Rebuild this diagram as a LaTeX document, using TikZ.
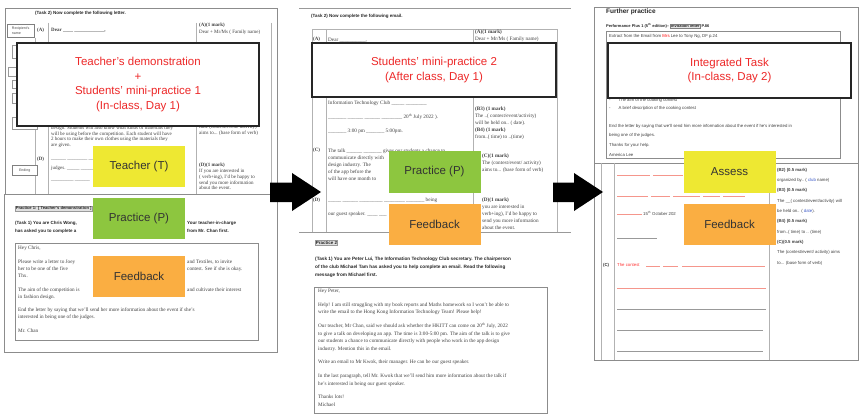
\documentclass[tikz,border=0pt]{standalone}
\usepackage{fontspec}
\setmainfont{Liberation Serif}
\setsansfont{Liberation Sans}
\usetikzlibrary{positioning}

\definecolor{tagyellow}{RGB}{238,232,50}
\definecolor{taggreen}{RGB}{141,198,63}
\definecolor{tagorange}{RGB}{250,174,66}
\definecolor{stagered}{RGB}{237,40,40}
\definecolor{blankred}{RGB}{245,150,140}
\definecolor{linkblue}{RGB}{60,90,200}

\begin{document}
\begin{tikzpicture}
[
    x=1pt, y=-1pt,
    page/.style={draw=black!45, line width=0.7pt, fill=white},
    sheet/.style={draw=black!40, line width=0.6pt},
    rule/.style={draw=black!30, line width=0.8pt},
    stage/.style={draw=black!85, line width=1.6pt, fill=white, text=stagered, align=center,
        inner sep=0pt, font=\sffamily\fontsize{11.5}{14.5}\selectfont},
    tag/.style={minimum width=92pt, minimum height=41pt, inner sep=0pt, text=black!80,
        font=\sffamily\fontsize{11.5}{14}\selectfont},
    doc/.style={anchor=north west, inner sep=0pt, align=left, text=black!75,
        font=\fontsize{5}{6}\selectfont},
    docsans/.style={doc, font=\sffamily\fontsize{4.3}{9.6}\selectfont},
    dochead/.style={doc, text=black!85, font=\sffamily\bfseries\fontsize{4.5}{7.7}\selectfont},
    labelbox/.style={draw=black!50, fill=white, inner sep=1pt, align=left, anchor=north west,
        minimum width=27pt, minimum height=13pt, text=black!70, font=\sffamily\fontsize{3.6}{4.2}\selectfont},
    blank/.style={draw=blankred, line width=0.6pt},
]
\useasboundingbox (0,0) rectangle (861,414);

% left: the letter (Task 2) and Practice 1
\draw[page] (5,8) rectangle (277,194);
\node[dochead] (taskTwoL) at (35,11) {(Task 2) Now complete the following letter.};
\draw[rule] (35,38) -- (35,194) (48,23) -- (48,194) (196,23) -- (196,194) (271,23) -- (271,194);
\node[labelbox] (recipL) at (7,24) {Recipient's\\name};
\draw[sheet, fill=white] (12,45) rectangle (34,58) (8,67) rectangle (30,76) (12,80) rectangle (34,88)
    (12,93) rectangle (34,103) (12,117) rectangle (37,129);
\node[labelbox, minimum width=25pt, minimum height=10pt] (endingL) at (12,165) {Ending};
\node[doc] (aL) at (37,28) {\textbf{(A)}};
\node[doc] (dearL) at (51,28.5) {\textbf{Dear \_\_\_\_ \_\_\_\_\_\_\_\_\_\_\_\_,}};
\node[doc, font=\fontsize{5}{7}\selectfont] (markAL) at (199,22.5) {\textbf{(A)(1 mark)}\\Dear + Mr/Ms ( Family name)};
\node[doc, font=\fontsize{5}{5.8}\selectfont] (bodyCL) at (51,125.5) {design. Students will also know what kinds of materials they\\will be using before the competition. Each student will have\\2 hours to make their own clothes using the materials they\\are given.};
\node[doc] (markCL) at (199,124.5) {time (contest/event/ activity)\\aims to... (base form of verb)};
\node[doc] (dL) at (37,157) {\textbf{(D)}};
\node[doc, font=\fontsize{5}{10.5}\selectfont] (bodyDL) at (51,159) {\_\_\_\_\_\_ \_\_\_\_\_\_\_\_ \_\_\_\_\\judges. \_\_\_\_\_ \_\_\_\_\_\\\_\_\_\_\_\_\_\_\_ \_\_\_\_\_\_};
\node[doc, font=\fontsize{5}{5.8}\selectfont] (markDL) at (199,163) {\textbf{(D)(1 mark)}\\If you are interested in\\( verb+ing), I'd be happy to\\send you more information\\about the event.};

\draw[page] (4,194) rectangle (277,352);
\node[dochead, font=\sffamily\bfseries\fontsize{4.1}{7.7}\selectfont, fill=black!12, draw=black!40, inner sep=0.6pt] (pracOneL) at (15,206) {Practice 1: [ Teacher's demonstration ]};
\node[dochead] (taskOneL) at (15,221) {(Task 1) You are Chris Wong,\\has asked you to complete a};
\node[dochead] (taskOneRL) at (187,221) {Your teacher-in-charge\\from Mr. Chan first.};
\draw[sheet, draw=black!45, line width=0.9pt] (15,243) rectangle (258,340);
\node[doc, font=\fontsize{5.2}{7.3}\selectfont] (msgL) at (18,246) {Hey Chris,\\[6pt]Please write a letter to Joey\\her to be one of the five\\Thx.\\[6pt]The aim of the competition is\\in fashion design.\\[6pt]End the letter by saying that we'll send her more information about the event if she's\\interested in being one of the judges.\\[6pt]Mr. Chan};
\node[doc, font=\fontsize{5.2}{7.3}\selectfont] (msgRL) at (187,246) {\phantom{Hey Chris,}\\[6pt]and Textiles, to invite\\contest. See if she is okay.\\\phantom{Thx.}\\[6pt]and cultivate their interest};

% middle: the email (Task 2) and Practice 2
\draw[sheet] (299,8) -- (571,8);
\node[dochead] (taskTwoM) at (311,14) {(Task 2) Now complete the following email.};
\draw[rule] (312,29) rectangle (557,232) (326,29) -- (326,232) (473,29) -- (473,232);
\draw[sheet] (299,232) -- (571,232);
\node[doc] (aM) at (313,36.5) {\textbf{(A)}};
\node[doc, font=\fontsize{5.2}{7}\selectfont] (dearM) at (328,37.5) {Dear \_\_\_\_\_\_\_\_\_\_,};
\node[doc, font=\fontsize{5.2}{7}\selectfont] (markAM) at (475,29.5) {\textbf{(A)(1 mark)}\\Dear + Mr/Ms ( Family name)};
\node[doc, font=\fontsize{5.2}{14}\selectfont] (bodyBM) at (328,100.5) {Information Technology Club \_\_\_\_\_ \_\_\_\_\_\_\_\_\\\_\_\_\_\_\_\_ \_\_\_\_\_\_ \_\_\_\_\_\_ \_\_\_\_\_\_\_\_ 20\textsuperscript{th} July 2022 ).\\\_\_\_\_\_\_\_ 3:00 pm \_\_\_\_\_\_\_ 5:00pm.};
\node[doc, font=\fontsize{5.2}{7}\selectfont] (markBM) at (475,106.5) {\textbf{(B3) (1 mark)}\\The ..( contest/event/activity)\\will be held on.. ( date).\\\textbf{(B4) (1 mark)}\\from..( time) to ..(time)};
\node[doc] (cM) at (313,148) {\textbf{(C)}};
\node[doc, font=\fontsize{5.2}{7}\selectfont] (bodyCM) at (328,148.5) {The talk \_\_\_\_\_\_ \_\_\_\_\_\_\_ gives our students a chance to\\communicate directly with\\design industry. The\\of the app before the\\will have one month to};
\node[doc, font=\fontsize{5.2}{7}\selectfont] (markCM) at (482,153.5) {\textbf{(C)(1 mark)}\\The (contest/event/ activity)\\aims to... (base form of verb)};
\node[doc] (dM) at (313,197.5) {\textbf{(D)}};
\node[doc, font=\fontsize{5.2}{14}\selectfont] (bodyDM) at (328,197.5) {\_\_\_\_\_ \_\_\_\_\_\_ \_\_\_\_\_\_\_\_\_ \_\_\_\_\_\_\_\_ \_\_\_\_\_\_\_ being\\our guest speaker. \_\_\_\_ \_\_\_};
\node[doc, font=\fontsize{5.2}{7}\selectfont] (markDM) at (482,197.5) {\textbf{(D)(1 mark)}\\you are interested in\\verb+ing), I'd be happy to\\send you more information\\about the event.};

\node[dochead, fill=black!12, draw=black!40, inner sep=0.6pt] (pracTwoM) at (315,240) {Practice 2};
\node[dochead, font=\sffamily\bfseries\fontsize{4.7}{7.7}\selectfont] (taskOneM) at (315,257) {(Task 1) You are Peter Lui, The Information Technology Club secretary. The chairperson\\of the club Michael Tam has asked you to help complete an email. Read the following\\message from Michael first.};
\draw[sheet, draw=black!45, line width=0.9pt] (314,287) rectangle (547,413);
\node[doc, font=\fontsize{5.2}{7.6}\selectfont] (msgM) at (318,289) {Hey Peter,\\[6pt]Help! I am still struggling with my book reports and Maths homework so I won't be able to\\write the email to the Hong Kong Information Technology Team! Please help!\\[6pt]Our teacher, Mr Chan, said we should ask whether the HKITT can come on 20\textsuperscript{th} July, 2022\\to give a talk on developing an app. The time is 3:00-5:00 pm. The aim of the talk is to give\\our students a chance to communicate directly with people who work in the app design\\industry. Mention this in the email.\\[6pt]Write an email to Mr Kwok, their manager. He can be our guest speaker.\\[6pt]In the last paragraph, tell Mr. Kwok that we'll send him more information about the talk if\\he's interested in being our guest speaker.\\[6pt]Thanks lots!\\Michael};

% right: further practice
\draw[page] (594,7) rectangle (858,163);
\node[dochead, font=\sffamily\bfseries\fontsize{6.5}{8}\selectfont] (furtherR) at (606,9) {Further practice};
\node[dochead, font=\sffamily\bfseries\fontsize{4}{5}\selectfont] (perfR) at (606,23) {Performance Plus 1 (5\textsuperscript{th} edition)-- \setlength\fboxsep{0.4pt}\fcolorbox{black!50}{black!10}{Invitation letter} P.86};
\draw[sheet, draw=black!45] (606,31) rectangle (840,158);
\node[docsans] (extractR) at (609,34) {Extract from the Email from \textcolor{red}{Mrs} Lee to Tony Ng, DF p.24};
\node[docsans, font=\sffamily\fontsize{4.3}{8}\selectfont] (pointsR) at (609,98) {-\hspace{8pt}The aim of the cooking contest\\-\hspace{8pt}A brief description of the cooking contest};
\node[docsans] (endR) at (609,124) {End the letter by saying that we'll send him more information about the event if he's interested in\\being one of the judges.\\Thanks for your help.\\America Lee};

\draw[page] (594,163) rectangle (858,360);
\draw[rule] (601,163) -- (601,360) (614,163) -- (614,360) (769,163) -- (769,360);
\draw[blank] (617,175) -- (650,175) (653,175) -- (683,175);
\draw[blank] (617,196) -- (648,196) (651,196) -- (670,196) (673,196) -- (700,196) (703,196) -- (720,196) (723,196) -- (745,196);
\draw[blank] (617,214) -- (642,214);
\node[docsans] (dateR) at (643,211.5) {15\textsuperscript{th} October 202};
\draw[sheet] (617,238) -- (657,238);
\node[docsans, text=black!80] (cR) at (603,263) {\textbf{(C)}};
\node[docsans, text=red!80] (contestR) at (617,263) {The contest};
\draw[blank] (646,266) -- (660,266) (663,266) -- (678,266) (682,266) -- (765,266);
\draw[blank] (617,288) -- (766,288);
\draw[sheet] (617,309) -- (766,309) (617,330) -- (763,330) (617,351) -- (763,351);
\node[docsans, font=\sffamily\fontsize{4.3}{10.3}\selectfont] (marksR) at (777,168) {\textbf{(B2) (0.5 mark)}\\organized by.. ( \textcolor{linkblue}{club} name)\\\textbf{(B3) (0.5 mark)}\\The \_\_( contest/event/activity) will\\be held on.. ( \textcolor{linkblue}{date}).\\\textbf{(B4) (0.5 mark)}\\from..( time) to .. (time)\\\textbf{(C)(0.5 mark)}\\The (contest/event/ activity) aims\\to... (base form of verb)};

% block arrows between the stages
\fill (270,182.5) -- (292,182.5) -- (292,173) -- (321,192) -- (292,211) -- (292,202) -- (270,202) -- cycle;
\fill (553,182.5) -- (574,182.5) -- (574,173) -- (603,192) -- (574,211) -- (574,202) -- (553,202) -- cycle;

% stage labels
\node[stage, minimum width=242pt, minimum height=83pt] (stageOne) at (138,84.5)
    {Teacher's demonstration\\+\\Students' mini-practice 1\\(In-class, Day 1)};
\node[stage, minimum width=244pt, minimum height=54pt] (stageTwo) at (434,70)
    {Students' mini-practice 2\\(After class, Day 1)};
\node[stage, minimum width=243pt, minimum height=55pt] (stageThree) at (729.5,70.5)
    {Integrated Task\\(In-class, Day 2)};

% T / P / F tags
\node[tag, fill=tagyellow] (teacherT) at (139,166.5) {Teacher (T)};
\node[tag, fill=taggreen, below=11pt of teacherT] (practiceL) {Practice (P)};
\node[tag, fill=tagorange, below=16pt of practiceL] (feedbackL) {Feedback};
\node[tag, fill=taggreen] (practiceM) at (434.5,172) {Practice (P)};
\node[tag, fill=tagorange, below=11pt of practiceM] (feedbackM) {Feedback};
\node[tag, fill=tagyellow] (assessR) at (729.5,172) {Assess};
\node[tag, fill=tagorange, below=11pt of assessR] (feedbackR) {Feedback};
\end{tikzpicture}
\end{document}
